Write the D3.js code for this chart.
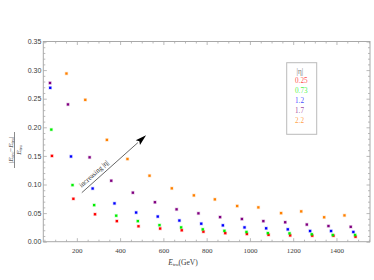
<!DOCTYPE html>
<html>
<head>
<meta charset="utf-8">
<script src="https://cdn.jsdelivr.net/npm/d3@7"></script>
<style>
  body { margin: 0; background: #fff; }
  svg { display: block; font-family: "Liberation Serif", "DejaVu Serif", serif; }
</style>
</head>
<body>
<svg id="vis" width="374" height="280"></svg>
<script>
// resolution vs true energy, one series per |eta| bin
const etaBins = ["0.25", "0.73", "1.2", "1.7", "2.2"];
const colors = ["#ff0000", "#00ee00", "#0000ff", "#800080", "#ff8000"];

const energyEta025 = [85, 184, 284, 385, 485, 585, 685, 785, 886, 986, 1086, 1186, 1288, 1386, 1488];
const resEta025 = [0.150, 0.075, 0.048, 0.036, 0.027, 0.023, 0.020, 0.0175, 0.015, 0.0135, 0.012, 0.011, 0.0105, 0.0105, 0.0087];

const energyEta073 = [82, 180, 280, 382, 482, 582, 682, 782, 882, 984, 1083, 1183, 1286, 1383, 1486];
const resEta073 = [0.196, 0.099, 0.064, 0.0455, 0.036, 0.029, 0.025, 0.0216, 0.019, 0.017, 0.015, 0.0146, 0.013, 0.0117, 0.0117];

const energyEta12 = [77, 173, 273, 374, 474, 574, 674, 775, 875, 975, 1075, 1175, 1278, 1375, 1478];
const resEta12 = [0.269, 0.149, 0.093, 0.067, 0.051, 0.044, 0.037, 0.0315, 0.0286, 0.025, 0.0234, 0.0216, 0.0187, 0.0187, 0.017];

const energyEta17 = [76, 159, 259, 359, 459, 561, 661, 762, 862, 963, 1062, 1163, 1263, 1363, 1466];
const resEta17 = [0.2775, 0.240, 0.1475, 0.1066, 0.0857, 0.069, 0.0566, 0.0496, 0.043, 0.0397, 0.036, 0.034, 0.030, 0.0274, 0.026];

const energyEta22 = [152, 239, 339, 434, 536, 639, 741, 838, 941, 1039, 1144, 1237, 1343, 1437];
const resEta22 = [0.294, 0.248, 0.178, 0.1446, 0.1154, 0.0933, 0.081, 0.074, 0.0624, 0.060, 0.050, 0.053, 0.0427, 0.046];

const xMajor = [200, 400, 600, 800, 1000, 1200, 1400];
const yMajor = [0, 0.05, 0.1, 0.15, 0.2, 0.25, 0.3, 0.35];

// arrow annotation in data coords
const arrowFrom = [223, 0.0857];
const arrowTo = [520, 0.186];

const energies = [energyEta025, energyEta073, energyEta12, energyEta17, energyEta22];
const resolutions = [resEta025, resEta073, resEta12, resEta17, resEta22];

const series = etaBins.map(function(eta, i) {
  return {
    eta: eta,
    color: colors[i],
    points: energies[i].map(function(e, j) { return {x: e, y: resolutions[i][j]}; })
  };
});

const svg = d3.select("svg#vis");
const plot = {left: 43.3, right: 370, top: 41.5, bottom: 241.7};

const x = d3.scaleLinear().domain([45, 1555]).range([plot.left, plot.right]);
const y = d3.scaleLinear().domain([0, 0.35]).range([plot.bottom, plot.top]);

const frameColor = "#a8a8a8";
const labelColor = "#3a3a3a";

// minor ticks
const xMinor = d3.range(50, 1551, 50).filter(function(v) { return v % 200 != 0; });
const yMinor = d3.range(0, 0.351, 0.01).filter(function(v) { return Math.abs(v / 0.05 - Math.round(v / 0.05)) > 1e-6; });

function styleAxis(sel) {
  sel.select(".domain").remove();
  sel.selectAll("line").attr("stroke", frameColor).attr("stroke-width", 0.8);
  sel.selectAll("text").attr("fill", labelColor).attr("font-size", 7);
}

// bottom
svg.append("g")
  .attr("transform", "translate(0," + plot.bottom + ")")
  .call(d3.axisBottom(x).tickValues(xMajor).tickSize(-3.5).tickPadding(6).tickFormat(d3.format("d")))
  .call(styleAxis)
  .selectAll("text").attr("font-family", "Liberation Serif");
svg.append("g")
  .attr("transform", "translate(0," + plot.bottom + ")")
  .call(d3.axisBottom(x).tickValues(xMinor).tickSize(-2).tickFormat(""))
  .call(styleAxis);
// top
svg.append("g")
  .attr("transform", "translate(0," + plot.top + ")")
  .call(d3.axisTop(x).tickValues(xMajor).tickSize(-3.5).tickFormat(""))
  .call(styleAxis);
svg.append("g")
  .attr("transform", "translate(0," + plot.top + ")")
  .call(d3.axisTop(x).tickValues(xMinor).tickSize(-2).tickFormat(""))
  .call(styleAxis);
// left
svg.append("g")
  .attr("transform", "translate(" + plot.left + ",0)")
  .call(d3.axisLeft(y).tickValues(yMajor).tickSize(-3.5).tickPadding(2).tickFormat(d3.format(".2f")))
  .call(styleAxis);
svg.append("g")
  .attr("transform", "translate(" + plot.left + ",0)")
  .call(d3.axisLeft(y).tickValues(yMinor).tickSize(-2).tickFormat(""))
  .call(styleAxis);
// right
svg.append("g")
  .attr("transform", "translate(" + plot.right + ",0)")
  .call(d3.axisRight(y).tickValues(yMajor).tickSize(-3.5).tickFormat(""))
  .call(styleAxis);
svg.append("g")
  .attr("transform", "translate(" + plot.right + ",0)")
  .call(d3.axisRight(y).tickValues(yMinor).tickSize(-2).tickFormat(""))
  .call(styleAxis);

// frame
svg.append("rect")
  .attr("x", plot.left).attr("y", plot.top)
  .attr("width", plot.right - plot.left).attr("height", plot.bottom - plot.top)
  .attr("fill", "none").attr("stroke", frameColor).attr("stroke-width", 1);

// points
const groups = svg.append("g").selectAll("g.series")
  .data(series)
  .enter()
  .append("g")
  .attr("class", "series")
  .attr("fill", function(d) { return d.color; });

groups.selectAll("rect.halo")
  .data(function(d) { return d.points; })
  .enter()
  .append("rect")
  .attr("x", function(d) { return x(d.x) - 1.8; })
  .attr("y", function(d) { return y(d.y) - 1.8; })
  .attr("width", 3.6).attr("height", 3.6)
  .attr("opacity", 0.2);

groups.selectAll("rect.pt")
  .data(function(d) { return d.points; })
  .enter()
  .append("rect")
  .attr("x", function(d) { return x(d.x) - 1.15; })
  .attr("y", function(d) { return y(d.y) - 1.15; })
  .attr("width", 2.3).attr("height", 2.3);

// arrow
const ax0 = x(arrowFrom[0]), ay0 = y(arrowFrom[1]);
const ax1 = x(arrowTo[0]), ay1 = y(arrowTo[1]);
const ang = Math.atan2(ay1 - ay0, ax1 - ax0);
const headLen = 11, headW = 3.2;
const bx = ax1 - headLen * Math.cos(ang), by = ay1 - headLen * Math.sin(ang);

svg.append("line")
  .attr("x1", ax0).attr("y1", ay0).attr("x2", bx).attr("y2", by)
  .attr("stroke", "#555").attr("stroke-width", 0.9);
svg.append("path")
  .attr("d", "M" + ax1 + "," + ay1 +
    "L" + (bx - headW * Math.sin(ang)) + "," + (by + headW * Math.cos(ang)) +
    "L" + (bx + 2 * Math.cos(ang)) + "," + (by + 2 * Math.sin(ang)) +
    "L" + (bx + headW * Math.sin(ang)) + "," + (by - headW * Math.cos(ang)) + "Z")
  .attr("fill", "#000");

const tx = ax0 + 0.035 * (ax1 - ax0), ty = ay0 + 0.035 * (ay1 - ay0);
svg.append("text")
  .attr("transform", "translate(" + tx + "," + ty + ") rotate(" + (ang * 180 / Math.PI) + ")")
  .attr("y", -3.8)
  .attr("font-size", 7)
  .attr("fill", "#333")
  .text("increasing |η|");

// legend
const legend = svg.append("g").attr("id", "legend");
legend.append("rect")
  .attr("x", 286.7).attr("y", 62.7).attr("width", 30).attr("height", 71.6)
  .attr("fill", "#fff").attr("stroke", "#bbb").attr("stroke-width", 1);
legend.append("text")
  .attr("x", 296.5).attr("y", 73.5)
  .attr("font-size", 7.2).attr("fill", "#777")
  .text("|η|");
legend.selectAll("text.entry")
  .data(series)
  .enter()
  .append("text")
  .attr("class", "entry")
  .attr("x", 295)
  .attr("y", function(d, i) { return 82.8 + i * 10; })
  .attr("font-size", 7.2)
  .attr("fill", function(d) { return d.color; })
  .attr("fill-opacity", 0.75)
  .text(function(d) { return d.eta; });

// x axis label
const xl = svg.append("text")
  .attr("x", 183).attr("y", 264.5)
  .attr("text-anchor", "middle")
  .attr("font-size", 7.5)
  .attr("fill", labelColor);
xl.append("tspan").attr("font-style", "italic").text("E");
xl.append("tspan").attr("font-size", 5).attr("dy", 1.5).text("tru");
xl.append("tspan").attr("dy", -1.5).text("(GeV)");

// y axis label (fraction)
const yl = svg.append("g").attr("transform", "translate(14.5,150) rotate(-90)").attr("fill", labelColor);
const num = yl.append("text").attr("text-anchor", "middle").attr("y", -2).attr("font-size", 7);
num.append("tspan").text("|");
num.append("tspan").attr("font-style", "italic").text("E");
num.append("tspan").attr("font-size", 4.8).attr("dy", 1.2).text("rec");
num.append("tspan").attr("dy", -1.2).text("−");
num.append("tspan").attr("font-style", "italic").text("E");
num.append("tspan").attr("font-size", 4.8).attr("dy", 1.2).text("tru");
num.append("tspan").attr("dy", -1.2).text("|");
yl.append("line")
  .attr("x1", -18).attr("x2", 18).attr("y1", 0).attr("y2", 0)
  .attr("stroke", labelColor).attr("stroke-width", 0.6);
const den = yl.append("text").attr("text-anchor", "middle").attr("y", 6.3).attr("font-size", 7);
den.append("tspan").attr("font-style", "italic").text("E");
den.append("tspan").attr("font-size", 4.8).attr("dy", 1.2).text("tru");
</script>
</body>
</html>
